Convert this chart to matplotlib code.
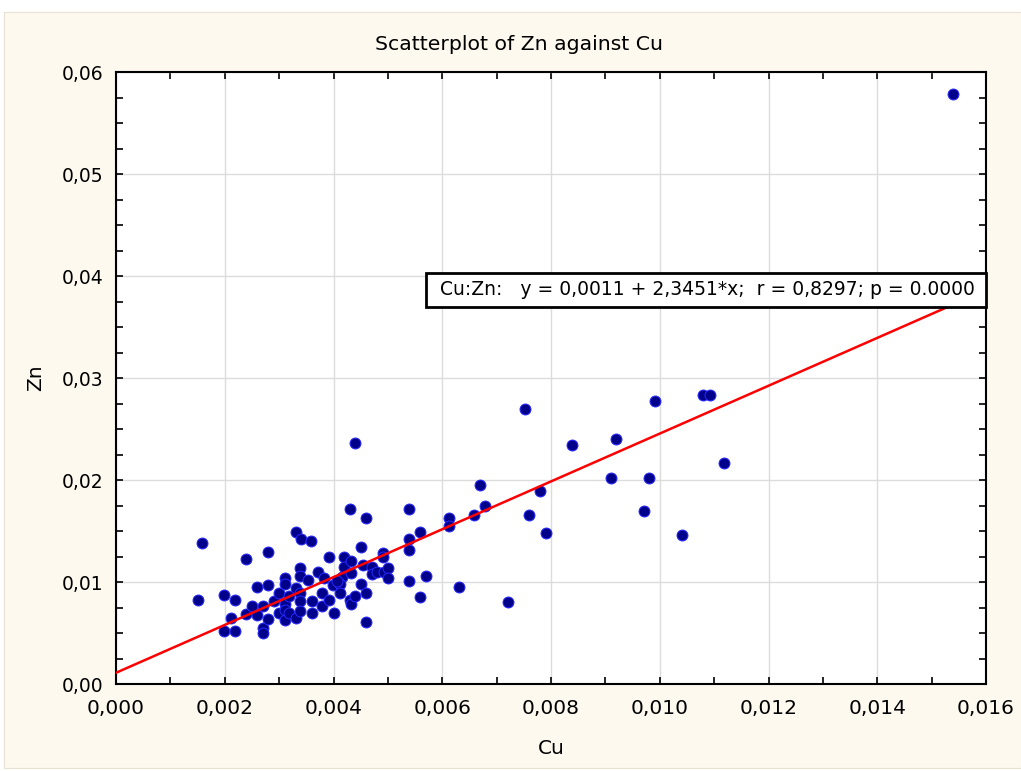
import numpy as np
import matplotlib.pyplot as plt
from matplotlib.ticker import MultipleLocator, FuncFormatter
from matplotlib.patches import Rectangle

plt.rcParams['font.family'] = ['DejaVu Sans']

# Cu / Zn concentrations
cu = [0.00151, 0.00159, 0.00199, 0.00219, 0.00211, 0.00199, 0.00219, 0.00239, 0.00239, 0.00251,
      0.00259, 0.00259, 0.00271, 0.00271, 0.00271, 0.00279, 0.00279, 0.00280, 0.00291, 0.00300,
      0.00300, 0.00311, 0.00311, 0.00311, 0.00311, 0.00311, 0.00319, 0.00319, 0.00331, 0.00340,
      0.00359, 0.00331, 0.00331, 0.00339, 0.00339, 0.00338, 0.00338, 0.00338, 0.00354, 0.00360,
      0.00360, 0.00371, 0.00378, 0.00378, 0.00383, 0.00392, 0.00392, 0.00399, 0.00400, 0.00416,
      0.00412, 0.00406, 0.00412, 0.00419, 0.00419, 0.00430, 0.00431, 0.00432, 0.00432, 0.00432,
      0.00439, 0.00440, 0.00451, 0.00451, 0.00455, 0.00459, 0.00460, 0.00460, 0.00470, 0.00470,
      0.00480, 0.00491, 0.00491, 0.00492, 0.00500, 0.00500, 0.00539, 0.00539, 0.00539, 0.00539,
      0.00559, 0.00559, 0.00571, 0.00612, 0.00612, 0.00631, 0.00659, 0.00669, 0.00679, 0.00720,
      0.00752, 0.00759, 0.00779, 0.00791, 0.00839, 0.00911, 0.00920, 0.00971, 0.00980, 0.00992,
      0.01040, 0.01079, 0.01092, 0.01119, 0.01539]
zn = [0.0082, 0.0138, 0.0087, 0.0082, 0.0065, 0.0052, 0.0052, 0.0123, 0.0069, 0.0076,
      0.0095, 0.0068, 0.0076, 0.0055, 0.0050, 0.0129, 0.0097, 0.0064, 0.0081, 0.0089,
      0.0070, 0.0104, 0.0098, 0.0078, 0.0073, 0.0063, 0.0086, 0.0070, 0.0149, 0.0142,
      0.0140, 0.0094, 0.0065, 0.0114, 0.0106, 0.0089, 0.0081, 0.0072, 0.0102, 0.0081,
      0.0070, 0.0110, 0.0089, 0.0076, 0.0104, 0.0125, 0.0082, 0.0097, 0.0070, 0.0105,
      0.0098, 0.0101, 0.0089, 0.0125, 0.0115, 0.0082, 0.0172, 0.0121, 0.0109, 0.0078,
      0.0236, 0.0086, 0.0134, 0.0098, 0.0117, 0.0163, 0.0089, 0.0061, 0.0115, 0.0108,
      0.0110, 0.0128, 0.0125, 0.0110, 0.0114, 0.0104, 0.0172, 0.0142, 0.0131, 0.0101,
      0.0149, 0.0085, 0.0106, 0.0163, 0.0155, 0.0095, 0.0166, 0.0195, 0.0175, 0.0080,
      0.0270, 0.0166, 0.0189, 0.0148, 0.0234, 0.0202, 0.0240, 0.0170, 0.0202, 0.0277,
      0.0146, 0.0283, 0.0283, 0.0217, 0.0578]

# fitted regression line
intercept = 0.0011
slope = 2.3451
r_value = 0.8297
p_value = 0.0000

x_ticks = [0.000, 0.002, 0.004, 0.006, 0.008, 0.010, 0.012, 0.014, 0.016]
y_ticks = [0.00, 0.01, 0.02, 0.03, 0.04, 0.05, 0.06]

fig = plt.figure(figsize=(10.21, 7.71), dpi=100, facecolor='white')
fig.patches.append(Rectangle((4 / 1021, 3 / 771), 1 - 4 / 1021, 1 - 15 / 771,
                             transform=fig.transFigure, facecolor='#fdf9ef',
                             edgecolor='#e8e2d4', lw=0.8, zorder=-10))

ax = fig.add_axes([116 / 1021, 1 - 684 / 771, 870 / 1021, 612 / 771])
ax.set_facecolor('white')

ax.set_xlim(x_ticks[0], x_ticks[-1])
ax.set_ylim(y_ticks[0], y_ticks[-1])
ax.set_xticks(x_ticks)
ax.set_yticks(y_ticks)
ax.xaxis.set_minor_locator(MultipleLocator(0.001))
ax.yaxis.set_minor_locator(MultipleLocator(0.0025))
ax.xaxis.set_major_formatter(FuncFormatter(lambda v, p: f'{v:.3f}'.replace('.', ',')))
ax.yaxis.set_major_formatter(FuncFormatter(lambda v, p: f'{v:.2f}'.replace('.', ',')))
ax.tick_params(which='both', direction='in', top=True, right=True, length=5, width=1.2)
ax.tick_params(axis='x', which='major', labelsize=14.5, pad=11)
ax.tick_params(axis='y', which='major', labelsize=13.5, pad=9)
ax.grid(True, which='major', color='#dcdcdc', lw=1)
ax.set_axisbelow(True)
for s in ax.spines.values():
    s.set_linewidth(1.5)

ax.scatter(cu, zn, s=62, facecolor='#00008b', edgecolor='#2a2aff', linewidth=0.7, zorder=3)

xl = np.array(ax.get_xlim())
ax.plot(xl, intercept + slope * xl, color='#ff0000', lw=1.8, zorder=4)

fmt = lambda v, n: f'{v:.{n}f}'.replace('.', ',')
label = (f'Cu:Zn:   y = {fmt(intercept, 4)} + {fmt(slope, 4)}*x;  '
         f'r = {fmt(r_value, 4)}; p = {p_value:.4f}')
ax.add_patch(Rectangle((0.3563, 0.616), 1 - 0.3563, 0.0556, transform=ax.transAxes,
                       facecolor='white', edgecolor='black', lw=2, zorder=5, clip_on=False))
ax.text(0.372, 0.6438, label, transform=ax.transAxes, fontsize=13.5,
        va='center', ha='left', zorder=6)

fig.text(519 / 1021, 1 - 44 / 771, 'Scatterplot of Zn against Cu', fontsize=14.7,
         ha='center', va='center')
ax.set_xlabel('Cu', fontsize=14.5, labelpad=15)
ax.set_ylabel('Zn', fontsize=14.5, labelpad=12)

fig.savefig('out.png', dpi=100, facecolor=fig.get_facecolor())
